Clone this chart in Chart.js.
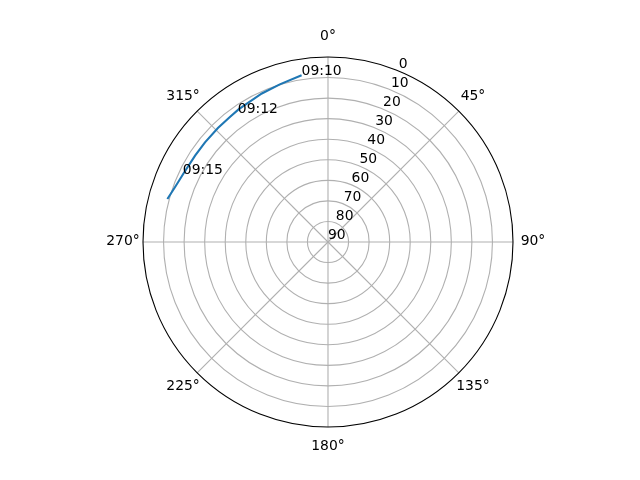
<!DOCTYPE html>
<html>
<head>
<meta charset="utf-8">
<script src="https://cdn.jsdelivr.net/npm/chart.js@4.4.0/dist/chart.umd.min.js"></script>
<style>
  html, body { margin: 0; padding: 0; background: #fff; }
  #wrap { width: 640px; height: 480px; position: relative; }
</style>
</head>
<body>
<div id="wrap"><canvas id="chart"></canvas></div>
<script>
// satellite pass: azimuth (deg, clockwise from north) and elevation (deg)
const trackAz = [351, 343, 336, 329, 326, 322, 316, 309, 303, 296, 290, 285];
const trackEl = [7.9, 9.8, 10.9, 12.0, 12.2, 12.7, 12.9, 13.0, 12.9, 12.3, 11.0, 9.1];

// time marks along the pass
const timeLabels = ['09:10', '09:12', '09:15'];
const timeAz = [351, 325, 295];
const timeEl = [7.9, 13.5, 12.1];

const angleTicks = [0, 45, 90, 135, 180, 225, 270, 315];
const radialTicks = [0, 10, 20, 30, 40, 50, 60, 70, 80, 90];

const FONT = '13.9px "DejaVu Sans"';

// one radar spoke per degree so each point sits at its real azimuth
const degrees = Array.from({ length: 360 }, (_, i) => i);
const trackData = degrees.map(() => null);
trackAz.forEach((a, i) => { trackData[a] = trackEl[i]; });

const skyplot = {
    id: 'skyplot',
    afterDatasetsUpdate(chart) {
        // radar always closes its line, this pass is open
        const line = chart.getDatasetMeta(0).dataset;
        line._loop = false;
        delete line._segments;
        delete line._path;
    },
    afterDraw(chart) {
        const s = chart.scales.r;
        const ctx = chart.ctx;
        const R = s.drawingArea;
        ctx.save();
        ctx.beginPath();
        ctx.arc(s.xCenter, s.yCenter, R, 0, Math.PI * 2);
        ctx.strokeStyle = '#000';
        ctx.lineWidth = 1.1;
        ctx.stroke();

        ctx.font = FONT;
        ctx.fillStyle = '#000';
        ctx.textAlign = 'center';
        ctx.textBaseline = 'middle';
        angleTicks.forEach(a => {
            const p = s.getPointPosition(a, R + 20);
            ctx.fillText(a + '°', p.x, p.y - 0.9);
        });

        // elevation labels along 22.5°
        ctx.textAlign = 'left';
        ctx.textBaseline = 'bottom';
        radialTicks.forEach(v => {
            const p = s.getPointPosition(22.5, s.getDistanceFromCenterForValue(v));
            ctx.fillText(String(v), p.x, p.y);
        });

        ctx.textBaseline = 'alphabetic';
        timeLabels.forEach((t, i) => {
            const p = s.getPointPositionForValue(timeAz[i], timeEl[i]);
            ctx.fillText(t, p.x, p.y);
        });
        ctx.restore();
    }
};

new Chart(document.getElementById('chart'), {
    type: 'radar',
    data: {
        labels: degrees,
        datasets: [{
            data: trackData,
            borderColor: '#1f77b4',
            borderWidth: 2.1,
            pointRadius: 0,
            fill: false,
            spanGaps: true,
            tension: 0
        }]
    },
    options: {
        responsive: true,
        maintainAspectRatio: false,
        animation: false,
        events: [],
        layout: { padding: { left: 143, right: 127, top: 57, bottom: 53 } },
        plugins: { legend: { display: false }, tooltip: { enabled: false } },
        scales: {
            r: {
                min: 0,
                max: 90,
                reverse: true,
                startAngle: 0,
                ticks: { display: false, stepSize: 10, reverse: true },
                pointLabels: { display: false },
                grid: {
                    circular: true,
                    color: '#b0b0b0',
                    lineWidth: c => (c.tick && (c.tick.value === 0 || c.tick.value === 90)) ? 0 : 1.1
                },
                angleLines: {
                    color: '#b0b0b0',
                    lineWidth: c => c.index % 45 === 0 ? 1.1 : 0
                }
            }
        }
    },
    plugins: [skyplot]
});
</script>
</body>
</html>
